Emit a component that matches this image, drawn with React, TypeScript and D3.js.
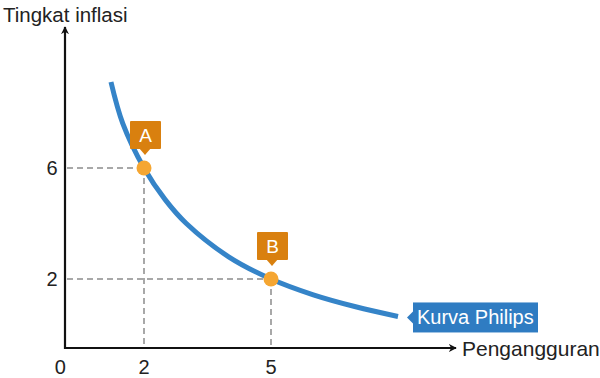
import React from "react";
import * as d3 from "d3";

const curveX = [1.22, 1.5, 2, 2.5, 3, 4, 5, 6, 7, 8];
const curveY = [9.1, 7.6, 6, 4.86, 4, 2.8, 2, 1.43, 1.0, 0.65];
const pointLabels = ["A", "B"];
const pointX = [2, 5];
const pointY = [6, 2];
const xTicks = [0, 2, 5];
const yTicks = [6, 2];
const yTitle = "Tingkat inflasi";
const xTitle = "Pengangguran";
const curveLabel = "Kurva Philips";

const W = 600;
const H = 378;
const font = "'Liberation Sans', Arial, sans-serif";

export default function App() {
  const x = d3.scaleLinear().domain([2, 5]).range([144, 271]);
  const y = d3.scaleLinear().domain([6, 2]).range([168, 279]);
  const axisX = 65;
  const axisY = 348;
  const pts: [number, number][] = curveX.map((v, i) => [v, curveY[i]]);
  const line = d3
    .line<[number, number]>()
    .x((d) => x(d[0]))
    .y((d) => y(d[1]))
    .curve(d3.curveCatmullRom.alpha(0.5));
  const last = pts[pts.length - 1];
  const lx = x(last[0]);
  const ly = y(last[1]);

  return (
    <svg
      width={W}
      height={H}
      style={{ position: "absolute", left: 0, top: 0, background: "#fff" }}
    >
      <defs>
        <marker
          id="arr"
          viewBox="0 0 10 10"
          refX="9"
          refY="5"
          markerWidth="8"
          markerHeight="8"
          orient="auto"
          markerUnits="userSpaceOnUse"
        >
          <path d="M0,0 L10,5 L0,10 L3,5 Z" fill="#111" />
        </marker>
      </defs>
      {/* dashed guides */}
      {pointX.map((px, i) => (
        <g key={"g" + i} stroke="#a8a8a8" strokeWidth={2} strokeDasharray="6,4" fill="none">
          <line x1={axisX + 2} x2={x(px)} y1={y(pointY[i])} y2={y(pointY[i])} />
          <line x1={x(px)} x2={x(px)} y1={y(pointY[i])} y2={axisY - 1} />
        </g>
      ))}
      {/* axes */}
      <line x1={axisX} x2={axisX} y1={axisY + 1} y2={27} stroke="#111" strokeWidth={2.2} markerEnd="url(#arr)" />
      <line x1={axisX - 1} x2={456} y1={axisY} y2={axisY} stroke="#111" strokeWidth={2.2} markerEnd="url(#arr)" />
      {/* curve */}
      <path d={line(pts) || ""} fill="none" stroke="#3584c8" strokeWidth={5} strokeLinecap="butt" />
      {/* tick labels */}
      {xTicks.map((t) => (
        <text key={"x" + t} x={x(t) + (t === 0 ? 1 : 0)} y={374} textAnchor="middle" fontSize={20} fontFamily={font} fill="#222">
          {t}
        </text>
      ))}
      {yTicks.map((t) => (
        <text key={"y" + t} x={52} y={y(t) + 7} textAnchor="middle" fontSize={20} fontFamily={font} fill="#222">
          {t}
        </text>
      ))}
      <text x={3} y={22} fontSize={20.5} fontFamily={font} fill="#222">
        {yTitle}
      </text>
      <text x={462} y={356} fontSize={21} fontFamily={font} fill="#222">
        {xTitle}
      </text>
      {/* points and callouts */}
      {pointX.map((px, i) => {
        const cx = x(px);
        const cy = y(pointY[i]);
        const top = cy - 47;
        return (
          <g key={"p" + i}>
            <rect x={cx - 14} y={top} width={31} height={28} fill="#d9800f" rx={1} />
            <path d={`M${cx - 5},${top + 27} L${cx + 1},${top + 34} L${cx + 7},${top + 27} Z`} fill="#d9800f" />
            <text x={cx + 1.5} y={top + 21} textAnchor="middle" fontSize={19} fontFamily={font} fill="#fff">
              {pointLabels[i]}
            </text>
            <circle cx={cx} cy={cy} r={7.5} fill="#f5a632" />
          </g>
        );
      })}
      {/* curve label */}
      <g>
        <rect x={lx + 15} y={ly - 14} width={125} height={30} fill="#2f7cc2" />
        <path d={`M${lx + 15},${ly - 5} L${lx + 9},${ly + 1} L${lx + 15},${ly + 7} Z`} fill="#2f7cc2" />
        <text x={lx + 19} y={ly + 8} fontSize={20} fontFamily={font} fill="#fff">
          {curveLabel}
        </text>
      </g>
    </svg>
  );
}
